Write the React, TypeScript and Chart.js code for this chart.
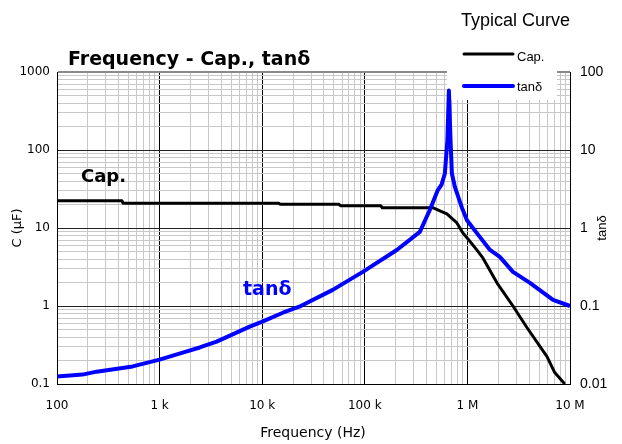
import { useEffect, useRef } from 'react';
import { Chart, registerables } from 'chart.js';
Chart.register(...registerables);

// ---- data (frequency in Hz) ----
const capFreq = [100, 430, 440, 14500, 15000, 56000, 58000, 143000, 148000, 460000, 540000, 631000, 790000, 904000, 1000000, 1240000, 1420000, 1940000, 2780000, 3800000, 5970000, 7100000, 8900000];
const capValues = [22.3, 22.3, 20.8, 20.8, 20.1, 20.1, 19.3, 19.3, 18.2, 18.2, 16.6, 15.2, 11.6, 8.6, 7.4, 5.2, 4.1, 1.98, 1.0, 0.53, 0.224, 0.14, 0.1];

const tanFreq = [100, 177, 243, 546, 1000, 1680, 2460, 3600, 7550, 9900, 15900, 23000, 48700, 95600, 205000, 344000, 430000, 515000, 560000, 603000, 638000, 660000, 685000, 706000, 755000, 884000, 990000, 1320000, 1660000, 2070000, 2780000, 4070000, 6830000, 10000000];
const tanValues = [0.0125, 0.0132, 0.0144, 0.0168, 0.0205, 0.0252, 0.0294, 0.0349, 0.0543, 0.0626, 0.082, 0.098, 0.161, 0.274, 0.523, 0.89, 1.70, 3.06, 3.6, 5.0, 13.3, 58, 13.3, 5.0, 3.36, 1.82, 1.26, 0.77, 0.524, 0.427, 0.274, 0.198, 0.12, 0.1];

const xDecades = [100, 1000, 10000, 100000, 1000000, 10000000];
const xTickLabels = ['100', '1 k', '10 k', '100 k', '1 M', '10 M'];
const leftDecades = [0.1, 1, 10, 100, 1000];
const leftTickLabels = ['0.1', '1', '10', '100', '1000'];
const rightDecades = [0.01, 0.1, 1, 10, 100];
const rightTickLabels = ['0.01', '0.1', '1', '10', '100'];

const chartTitle = 'Frequency - Cap., tanδ';
const cornerTitle = 'Typical Curve';
const seriesNames = ['Cap.', 'tanδ'];
const xTitle = 'Frequency (Hz)';
const yTitle = 'C (μF)';
const y2Title = 'tanδ';

const CAP_COLOR = '#000000';
const TAN_COLOR = '#0000ff';

function withMinors(decades: number[]): number[] {
  const out: number[] = [];
  decades.forEach((d, i) => {
    out.push(d);
    if (i < decades.length - 1) {
      for (let k = 2; k <= 9; k++) out.push(parseFloat((d * k).toPrecision(6)));
    }
  });
  return out;
}
function decadeIndex(decades: number[], v: number | undefined): number {
  if (v === undefined || v === null) return -1;
  return decades.findIndex((d) => Math.abs(d - v) / d < 1e-6);
}

const overlay = {
  id: 'overlay',
  beforeDatasetsDraw(chart: any) {
    const { ctx, chartArea } = chart;
    ctx.save();
    ctx.fillStyle = '#ffffff';
    ctx.fillRect(447, chartArea.top - 2, 110, 100 - (chartArea.top - 2));
    ctx.restore();
  },
  afterDraw(chart: any) {
    const { ctx } = chart;
    ctx.save();
    ctx.textBaseline = 'middle';
    // corner title
    ctx.fillStyle = '#000';
    ctx.font = '18px "Liberation Sans"';
    ctx.textAlign = 'right';
    ctx.fillText(cornerTitle, 570, 21);
    // chart title
    ctx.font = 'bold 19px "DejaVu Sans"';
    ctx.textAlign = 'left';
    ctx.fillText(chartTitle, 68, 60);
    // legend
    ctx.lineCap = 'round';
    ctx.strokeStyle = CAP_COLOR;
    ctx.lineWidth = 3;
    ctx.beginPath(); ctx.moveTo(464, 54); ctx.lineTo(513, 54); ctx.stroke();
    ctx.strokeStyle = TAN_COLOR;
    ctx.lineWidth = 4;
    ctx.beginPath(); ctx.moveTo(464, 86); ctx.lineTo(513, 86); ctx.stroke();
    ctx.font = '13px "Liberation Sans"';
    ctx.fillStyle = '#000';
    ctx.fillText(seriesNames[0], 517, 57);
    ctx.fillText(seriesNames[1], 517, 87);
    // annotations
    ctx.font = 'bold 18px "DejaVu Sans"';
    ctx.fillStyle = CAP_COLOR;
    ctx.fillText(seriesNames[0], 81, 177);
    ctx.font = 'bold 19px "DejaVu Sans"';
    ctx.fillStyle = TAN_COLOR;
    ctx.fillText(seriesNames[1], 243, 290);
    // axis titles
    ctx.fillStyle = '#000';
    ctx.textAlign = 'center';
    ctx.font = '14px "DejaVu Sans"';
    ctx.fillText(xTitle, 313, 433);
    ctx.save();
    ctx.translate(18, 228);
    ctx.rotate(-Math.PI / 2);
    ctx.font = '13px "DejaVu Sans"';
    ctx.fillText(yTitle, 0, 0);
    ctx.restore();
    ctx.save();
    ctx.translate(602, 228);
    ctx.rotate(-Math.PI / 2);
    ctx.font = '13px "Liberation Sans"';
    ctx.fillText(y2Title, 0, 0);
    ctx.restore();
    ctx.restore();
  },
};

export default function App() {
  const canvasRef = useRef<HTMLCanvasElement | null>(null);
  useEffect(() => {
    if (!canvasRef.current) return;
    const chart = new Chart(canvasRef.current, {
      type: 'line',
      data: {
        datasets: [
          {
            label: seriesNames[1],
            data: tanFreq.map((f, i) => ({ x: f, y: tanValues[i] })),
            borderColor: TAN_COLOR,
            borderWidth: 4,
            pointRadius: 0,
            tension: 0,
            yAxisID: 'y2',
            borderJoinStyle: 'round',
          },
          {
            label: seriesNames[0],
            data: capFreq.map((f, i) => ({ x: f, y: capValues[i] })),
            borderColor: CAP_COLOR,
            borderWidth: 3,
            pointRadius: 0,
            tension: 0,
            yAxisID: 'y',
            borderJoinStyle: 'round',
          },
        ],
      },
      options: {
        responsive: false,
        animation: false,
        devicePixelRatio: 1,
        layout: { padding: { top: 72, left: 0, right: 0, bottom: 0 } },
        plugins: { legend: { display: false }, tooltip: { enabled: false }, title: { display: false } },
        scales: {
          x: {
            type: 'logarithmic',
            position: 'bottom',
            min: 100,
            max: 10000000,
            afterBuildTicks: (s: any) => { s.ticks = withMinors(xDecades).map((v) => ({ value: v })); },
            afterFit: (s: any) => { s.height = 60; s.paddingLeft = 0; s.paddingRight = 0; },
            ticks: {
              autoSkip: false,
              maxRotation: 0,
              minRotation: 0,
              padding: 15,
              color: '#000',
              font: { family: 'DejaVu Sans', size: 12 },
              callback: (v: any) => { const i = decadeIndex(xDecades, Number(v)); return i >= 0 ? xTickLabels[i] : ''; },
            },
            grid: {
              drawTicks: false,
              color: (c: any) => (decadeIndex(xDecades, c.tick?.value) >= 0 ? '#000000' : '#c8c8c8'),
              lineWidth: 1,
            },
            border: { display: true, color: '#000' },
          },
          y: {
            type: 'logarithmic',
            position: 'left',
            min: 0.1,
            max: 1000,
            afterBuildTicks: (s: any) => { s.ticks = withMinors(leftDecades).map((v) => ({ value: v })); },
            afterFit: (s: any) => { s.width = 57; s.paddingTop = 0; s.paddingBottom = 0; },
            ticks: {
              autoSkip: false,
              padding: 7,
              color: '#000',
              font: { family: 'DejaVu Sans', size: 12 },
              callback: (v: any) => { const i = decadeIndex(leftDecades, Number(v)); return i >= 0 ? leftTickLabels[i] : ''; },
            },
            grid: {
              drawTicks: false,
              color: (c: any) => {
                const v = c.tick?.value;
                if (decadeIndex([1000], v) >= 0) return '#8a8a8a';
                return decadeIndex(leftDecades, v) >= 0 ? '#222222' : '#c8c8c8';
              },
              lineWidth: (c: any) => (decadeIndex([1000], c.tick?.value) >= 0 ? 2 : 1),
            },
            border: { display: true, color: '#000' },
          },
          y2: {
            type: 'logarithmic',
            position: 'right',
            min: 0.01,
            max: 100,
            afterBuildTicks: (s: any) => { s.ticks = rightDecades.map((v) => ({ value: v })); },
            afterFit: (s: any) => { s.width = 52; s.paddingTop = 0; s.paddingBottom = 0; },
            ticks: {
              autoSkip: false,
              padding: 10,
              color: '#000',
              font: { family: 'Liberation Sans', size: 14 },
              callback: (v: any) => { const i = decadeIndex(rightDecades, Number(v)); return i >= 0 ? rightTickLabels[i] : ''; },
            },
            grid: { display: false, drawTicks: false },
            border: { display: true, color: '#000' },
          },
        },
      },
      plugins: [overlay],
    } as any);
    return () => chart.destroy();
  }, []);
  return (
    <div style={{ position: 'absolute', left: 0, top: 0, width: 622, height: 444, background: '#fff' }}>
      <canvas ref={canvasRef} width={622} height={444} style={{ display: 'block' }} />
    </div>
  );
}
